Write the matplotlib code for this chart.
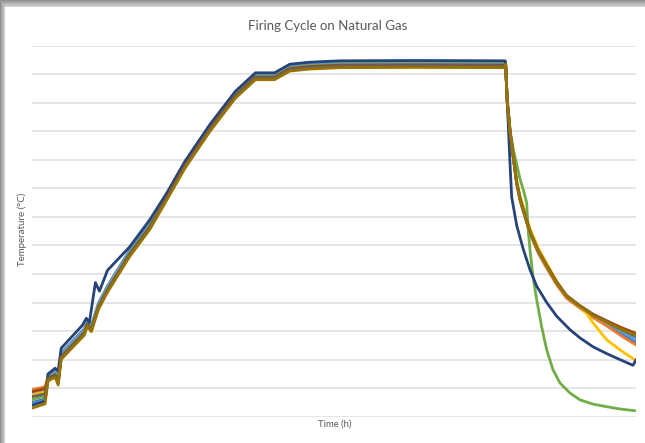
import numpy as np
import matplotlib
matplotlib.use("Agg")
import matplotlib.pyplot as plt

# ---------------- data ----------------
title = "Firing Cycle on Natural Gas"
xlabel = "Time (h)"
ylabel = "Temperature (°C)"

series_names = ["S1", "S2", "S3", "S4", "S5", "S6", "S7", "S8", "S9", "S10"]
series_colors = ["#4472C4", "#ED7D31", "#A5A5A5", "#FFC000", "#5B9BD5",
                 "#70AD47", "#264478", "#9E480E", "#636363", "#997300"]

# start of each run (t = 0 h and t = 1.3 h)
t_start = [0.0, 1.3]
start_T = {
    "S1": [50, 62], "S2": [95, 105], "S3": [80, 92], "S4": [75, 86],
    "S5": [45, 58], "S6": [60, 72], "S7": [40, 55], "S8": [88, 98],
    "S9": [70, 80], "S10": [30, 45],
}

# common heating ramp and hold
t_heat = [1.6, 2.3, 2.6, 2.9, 5.2, 5.5, 5.9, 6.6, 7.5, 9.7, 11.7, 13.5,
          15.2, 17.7, 20.2, 22.2, 24.1, 25.6, 27.5, 30.6, 38.0, 47.0]
heat_T = [140, 152, 125, 215, 300, 330, 312, 390, 450, 575, 670, 780,
          885, 1015, 1130, 1195, 1195, 1225, 1232, 1237, 1238, 1237]
heat_offset = {"S1": 8, "S2": 3, "S3": 0, "S4": 2, "S5": 5, "S6": -3,
               "S7": 10, "S8": -5, "S9": -8, "S10": -14}

# the dark-blue run deviates during the early heating
t_heat_s7 = [1.6, 2.3, 2.6, 2.9, 5.0, 5.4, 5.7, 6.3, 6.7, 7.5, 9.7, 11.7]
heat_T_s7 = [150, 170, 160, 240, 320, 345, 330, 470, 440, 513, 595, 690]

# cooling
t_cool = [47.05, 47.2, 47.5, 47.85, 48.15, 48.5, 49.0, 49.5, 50.3, 51.13,
          52.1, 53.1, 54.4, 55.1, 55.7, 57.1, 58.5, 60.0]
cool_T = {
    "S1":  [1235, 1107, 990, 896, 815, 757, 698, 642, 577, 527, 470, 422, 386, 368, 352, 323, 290, 258],
    "S2":  [1235, 1108, 992, 897, 816, 756, 696, 638, 572, 520, 463, 415, 381, 363, 348, 318, 284, 251],
    "S3":  [1235, 1110, 994, 900, 819, 760, 701, 644, 578, 527, 469, 421, 386, 369, 355, 329, 301, 276],
    "S4":  [1235, 1115, 1002, 910, 830, 772, 713, 656, 590, 537, 476, 424, 385, 362, 330, 269, 232, 197],
    "S5":  [1235, 1108, 993, 899, 818, 759, 700, 643, 578, 528, 471, 423, 388, 371, 357, 331, 299, 269],
    "S8":  [1235, 1111, 996, 902, 821, 762, 704, 647, 582, 531, 473, 425, 390, 374, 360, 336, 313, 292],
    "S9":  [1235, 1110, 995, 901, 820, 761, 702, 645, 580, 529, 471, 423, 388, 371, 357, 332, 306, 282],
    "S10": [1235, 1109, 994, 900, 819, 760, 701, 644, 579, 528, 470, 422, 387, 370, 356, 331, 307, 286],
}
t_cool_s6 = [47.05, 47.2, 47.5, 47.85, 48.15, 48.5, 48.85, 49.14, 49.27, 49.47, 49.77,
             50.14, 50.63, 51.13, 51.76, 52.45, 53.44, 54.44, 55.73, 57.09, 58.41, 59.9]
cool_T_s6 = [1235, 1112, 1000, 930, 885, 830, 790, 750, 664, 584, 490,
             409, 315, 234, 164, 118, 83, 59, 44, 35, 27, 21]
t_cool_s7 = [47.05, 47.2, 47.35, 47.5, 47.65, 48.15, 48.81, 49.47, 50.14, 51.13,
             52.12, 53.44, 54.44, 55.73, 57.09, 58.41, 59.7, 60.0]
cool_T_s7 = [1235, 1109, 993, 875, 770, 670, 586, 515, 457, 400,
             352, 305, 276, 245, 221, 200, 180, 199]

# ---------------- figure ----------------
W, H, DPI = 645, 443, 100
fig = plt.figure(figsize=(W / DPI, H / DPI), dpi=DPI)

# card with soft shadow (decoration)
bg = fig.add_axes([0, 0, 1, 1], zorder=-10)
yy, xx = np.mgrid[0:H, 0:W]
dx = np.clip(5 - xx, 0, None)
dy = np.clip(7 - yy, 0, None)
d = np.maximum(dx / 5.0, dy / 7.0)
img = np.where(d > 0, 0.86 - 0.28 * d, 1.0)
bg.imshow(np.dstack([img, img, img]), aspect="auto", extent=[0, W, H, 0])
bg.set_xlim(0, W); bg.set_ylim(H, 0); bg.axis("off")

left, right = 32 / W, 636 / W
bottom, top = 1 - 416.7 / H, 1 - 45.7 / H
ax = fig.add_axes([left, bottom, right - left, top - bottom])
ax.patch.set_alpha(0)

for name, color in zip(series_names, series_colors):
    if name == "S7":
        t = t_start + t_heat_s7 + [v for v in t_heat if v > t_heat_s7[-1]]
        T = start_T[name] + heat_T_s7 + [v + heat_offset[name] for tv, v in zip(t_heat, heat_T) if tv > t_heat_s7[-1]]
        t = t + t_cool_s7
        T = T + cool_T_s7
    else:
        t = t_start + t_heat
        T = start_T[name] + [v + heat_offset[name] for v in heat_T]
        if name == "S6":
            t = t + t_cool_s6
            T = T + cool_T_s6
        else:
            t = t + t_cool
            T = T + cool_T[name]
    ax.plot(t, T, color=color, lw=2.0, solid_joinstyle="round", solid_capstyle="round")

ax.set_xlim(0, 60)
ax.set_ylim(0, 1300)
ax.set_yticks(np.arange(0, 1301, 100))
ax.set_xticks([])
ax.yaxis.grid(True, color="#E3E3E3", lw=1.3)
ax.set_axisbelow(True)
ax.tick_params(left=False, labelleft=False)
for s in ax.spines.values():
    s.set_visible(False)

fig.text(328 / W, 1 - 26 / H, title, ha="center", va="center",
         fontsize=9.5, color="#595959", family="Lato")
fig.text(335 / W, 1 - 424 / H, xlabel, ha="center", va="center",
         fontsize=6.8, color="#595959", family="Lato")
fig.text(22 / W, 1 - 229 / H, ylabel, ha="center", va="center",
         rotation=90, fontsize=7, color="#595959", family="Lato")

fig.savefig("out.png", dpi=DPI)
